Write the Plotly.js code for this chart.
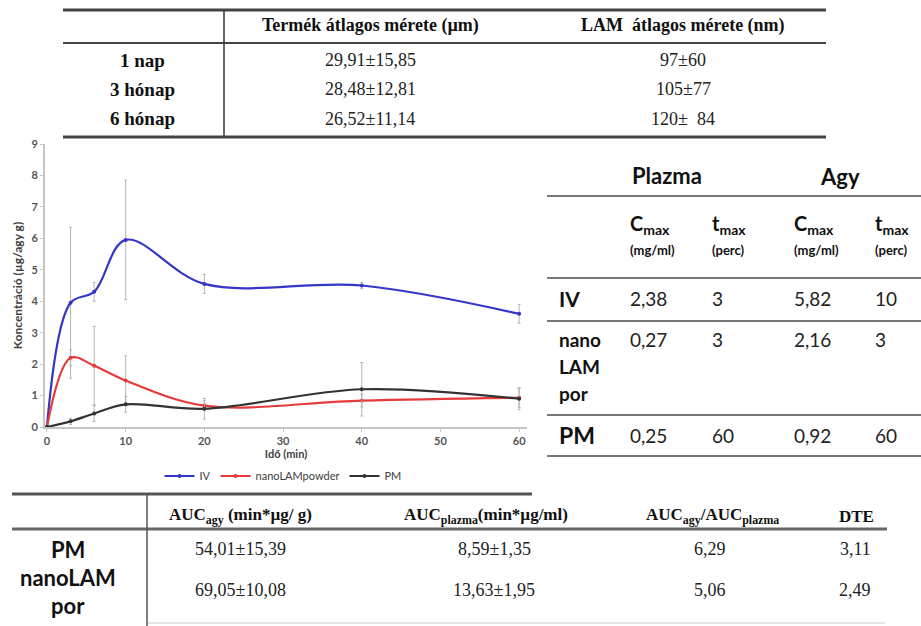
<!DOCTYPE html>
<html>
<head>
<meta charset="utf-8">
<script src="https://cdn.plot.ly/plotly-3.0.1.min.js"></script>
<style>html,body{margin:0;padding:0;background:#fff;}#chart{width:921px;height:626px;}</style>
</head>
<body>
<div id="chart"></div>
<script>
// ---- chart data ----
const times = [0, 3, 6, 10, 20, 40, 60];
const ivConc = [0, 3.95, 4.3, 5.95, 4.55, 4.5, 3.6];
const ivErr = [0, 2.4, 0.3, 1.9, 0.3, 0.1, 0.3];
const nanoConc = [0, 2.2, 1.95, 1.48, 0.68, 0.84, 0.93];
const nanoErr = [0, 0.25, 1.25, 0.78, 0.15, 0.2, 0.3];
const pmConc = [0, 0.18, 0.43, 0.72, 0.58, 1.2, 0.9];
const pmErr = [0, 0.1, 0.25, 0.25, 0.33, 0.85, 0.35];
const seriesNames = ['IV', 'nanoLAMpowder', 'PM'];
const xTicks = [0, 10, 20, 30, 40, 50, 60];
const yTicks = [0, 1, 2, 3, 4, 5, 6, 7, 8, 9];

// ---- top table ----
const sizeCols = ['Termék átlagos mérete (µm)', 'LAM  átlagos mérete (nm)'];
const sizeRows = ['1 nap', '3 hónap', '6 hónap'];
const productSize = ['29,91±15,85', '28,48±12,81', '26,52±11,14'];
const lamSize = ['97±60', '105±77', '120±  84'];

// ---- right table ----
const pkGroups = ['Plazma', 'Agy'];
const pkColHeads = ['C<sub>max</sub>', 't<sub>max</sub>', 'C<sub>max</sub>', 't<sub>max</sub>'];
const pkColUnits = ['(mg/ml)', '(perc)', '(mg/ml)', '(perc)'];
const pkRows = [['IV'], ['nano', 'LAM', 'por'], ['PM']];
const plasmaCmax = ['2,38', '0,27', '0,25'];
const plasmaTmax = ['3', '3', '60'];
const brainCmax = ['5,82', '2,16', '0,92'];
const brainTmax = ['10', '3', '60'];

// ---- bottom table ----
const aucCols = ['AUC<sub>agy</sub> (min*µg/ g)', 'AUC<sub>plazma</sub>(min*µg/ml)', 'AUC<sub>agy</sub>/AUC<sub>plazma</sub>', 'DTE'];
const aucRowLabels = ['PM', 'nanoLAM', 'por'];
const aucBrain = ['54,01±15,39', '69,05±10,08'];
const aucPlasma = ['8,59±1,35', '13,63±1,95'];
const aucRatio = ['6,29', '5,06'];
const dte = ['3,11', '2,49'];

const W = 921, H = 626;
const px = x => x / W;
const py = y => 1 - y / H;

const serif = 'Liberation Serif, Times New Roman, serif';
const sans = 'Lato, Open Sans, sans-serif';

function mkTrace(y, err, name, color) {
  return {
    x: times, y: y, name: name, type: 'scatter', mode: 'lines+markers',
    line: {color: color, width: 2.2, shape: 'spline', smoothing: 1},
    marker: {color: color, size: 4},
    error_y: {type: 'data', array: err, visible: true, color: '#b5b5b5', thickness: 1, width: 1.5}
  };
}
const traces = [
  mkTrace(ivConc, ivErr, seriesNames[0], '#3535c8'),
  mkTrace(nanoConc, nanoErr, seriesNames[1], '#e53a3a'),
  mkTrace(pmConc, pmErr, seriesNames[2], '#333333')
];

const ann = [];
const shapes = [];
function txt(x, y, text, opts) {
  ann.push(Object.assign({xref: 'paper', yref: 'paper', x: px(x), y: py(y), text: text, showarrow: false,
    xanchor: 'center', yanchor: 'middle', font: {family: serif, size: 18, color: '#111'}}, opts || {}));
}
function hline(x0, x1, y, color, width) {
  shapes.push({type: 'line', xref: 'paper', yref: 'paper', x0: px(x0), x1: px(x1), y0: py(y), y1: py(y),
    line: {color: color, width: width}});
}
function vline(x, y0, y1, color, width) {
  shapes.push({type: 'line', xref: 'paper', yref: 'paper', x0: px(x), x1: px(x), y0: py(y0), y1: py(y1),
    line: {color: color, width: width}});
}

// top table
hline(63, 826, 10, '#444', 3);
hline(63, 826, 43, '#444', 2);
hline(63, 826, 137, '#444', 3);
vline(224, 10, 137, '#333', 1.5);
txt(370, 26, sizeCols[0], {font: {family: serif, size: 18, color: '#111', weight: 'bold'}});
txt(683, 26, sizeCols[1], {font: {family: serif, size: 18, color: '#111', weight: 'bold'}});
const topRowY = [60, 89, 119];
sizeRows.forEach((r, i) => {
  txt(142, topRowY[i], r, {font: {family: serif, size: 19, color: '#111', weight: 'bold'}});
  txt(370, topRowY[i], productSize[i], {font: {family: serif, size: 18, color: '#222'}});
  txt(683, topRowY[i], lamSize[i], {font: {family: serif, size: 18, color: '#222'}});
});

// right table
const rtColX = [628, 710, 792, 873];
const rtLeft = 547;
txt(630, 175, pkGroups[0], {xanchor: 'left', font: {family: sans, size: 22, color: '#111', weight: 'bold'}});
txt(818, 176, pkGroups[1], {xanchor: 'left', font: {family: sans, size: 22, color: '#111', weight: 'bold'}});
hline(rtLeft, 921, 196, '#777', 2);
pkColHeads.forEach((h, i) => {
  txt(rtColX[i], 224, h, {xanchor: 'left', font: {family: sans, size: 20, color: '#111', weight: 'bold'}});
  txt(rtColX[i], 250, pkColUnits[i], {xanchor: 'left', font: {family: sans, size: 13, color: '#111', weight: 'bold'}});
});
hline(rtLeft, 921, 278, '#777', 2);
const rtRowY = [298, 340, 435];
pkRows.forEach((lines, i) => {
  const big = lines.length === 1;
  lines.forEach((l, j) => {
    txt(557, rtRowY[i] + j * 26.5, l, {xanchor: 'left',
      font: {family: sans, size: i === 2 ? 23 : (big ? 21 : 19), color: '#111', weight: 'bold'}});
  });
  [plasmaCmax, plasmaTmax, brainCmax, brainTmax].forEach((col, k) => {
    txt(rtColX[k], rtRowY[i], col[i], {xanchor: 'left', font: {family: sans, size: 19, color: '#222'}});
  });
});
hline(rtLeft, 921, 321, '#777', 2);
hline(rtLeft, 921, 415, '#777', 2);
hline(rtLeft, 921, 456, '#777', 2);

// bottom table
hline(12, 532, 494, '#555', 3);
hline(12, 887, 529, '#666', 3);
hline(147, 885, 623, '#ccc', 1);
vline(147, 494, 626, '#555', 1.5);
const bColX = [240, 486, 712, 856];
aucCols.forEach((c, i) => {
  txt(bColX[i], 516, c, {font: {family: serif, size: 17, color: '#111', weight: 'bold'}});
});
const bLabY = [549, 577, 605];
aucRowLabels.forEach((l, i) => {
  txt(68, bLabY[i], l, {font: {family: sans, size: 22, color: '#111', weight: 'bold'}});
});
const bRowY = [549, 590];
const bValX = [240, 494, 710, 855];
[aucBrain, aucPlasma, aucRatio, dte].forEach((col, k) => {
  col.forEach((v, i) => {
    txt(bValX[k], bRowY[i], v, {font: {family: serif, size: 18, color: '#222'}});
  });
});

const tickFont = {family: sans, size: 11, color: '#555555', weight: 'bold'};
const layout = {
  width: W, height: H,
  margin: {l: 0, r: 0, t: 0, b: 0},
  paper_bgcolor: '#fff', plot_bgcolor: '#fff',
  showlegend: true,
  legend: {orientation: 'h', x: px(283), xanchor: 'center', y: py(476), yanchor: 'middle',
    font: {family: sans, size: 11, color: '#404040'}, tracegroupgap: 0, bgcolor: 'rgba(0,0,0,0)'},
  xaxis: {
    domain: [px(45), px(527)], range: [-0.25, 61], tickvals: xTicks,
    showline: true, linecolor: '#c4c4c4', linewidth: 2, ticks: 'outside', ticklen: 3, tickcolor: '#c4c4c4',
    showgrid: false, zeroline: false, tickfont: tickFont, fixedrange: true,
    title: {text: 'Idő (min)', font: {family: sans, size: 11, color: '#404040', weight: 'bold'}, standoff: 1}
  },
  yaxis: {
    domain: [py(427), py(144)], range: [0, 9], tickvals: yTicks,
    showline: true, linecolor: '#c4c4c4', linewidth: 2, ticks: 'outside', ticklen: 3, tickcolor: '#c4c4c4',
    showgrid: false, zeroline: false, tickfont: tickFont, fixedrange: true,
    title: {text: 'Koncentráció (µg/agy g)', font: {family: sans, size: 12, color: '#404040', weight: 'bold'}, standoff: 6}
  },
  annotations: ann,
  shapes: shapes
};

Plotly.newPlot('chart', traces, layout, {displayModeBar: false, staticPlot: true});
</script>
</body>
</html>
